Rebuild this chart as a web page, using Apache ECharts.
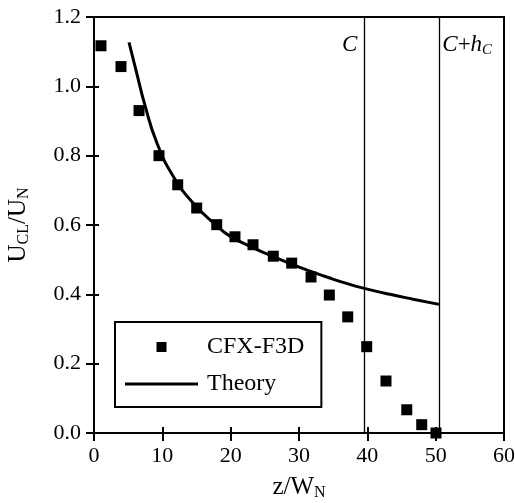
<!DOCTYPE html>
<html>
<head>
<meta charset="utf-8">
<script src="https://cdn.jsdelivr.net/npm/echarts@6/dist/echarts.min.js"></script>
<style>html,body{margin:0;padding:0;background:#fff}#c{width:515px;height:503px}</style>
</head>
<body>
<div id="c"></div>
<script>
// CFX-F3D simulation points [z/W_N, U_CL/U_N]
const cfxZ = [1.02, 3.95, 6.59, 9.51, 12.25, 15.03, 17.96, 20.63, 23.27, 26.24, 28.93, 31.76, 34.44, 37.13, 39.91, 42.73, 45.77, 47.96, 50.05];
const cfxU = [1.117, 1.057, 0.93, 0.80, 0.716, 0.649, 0.601, 0.566, 0.543, 0.510, 0.490, 0.450, 0.398, 0.335, 0.249, 0.150, 0.067, 0.024, 0.0];
// Theory curve
const theoryZ = [5.12, 6.25, 7.46, 9.18, 11.61, 14.53, 17.96, 19.9, 23.3, 26.2, 28.9, 31.6, 34.5, 37.2, 39.4, 43.3, 46.7, 50.5];
const theoryU = [1.127, 1.038, 0.945, 0.838, 0.740, 0.663, 0.598, 0.568, 0.534, 0.509, 0.487, 0.467, 0.447, 0.430, 0.418, 0.400, 0.386, 0.371];
// vertical reference lines
const refZ = [39.56, 50.53];
const xTicks = {min: 0, max: 60, interval: 10};
const yTicks = {min: 0, max: 1.2, interval: 0.2};

const FONT = '"Liberation Serif", "Times New Roman", serif';
const chart = echarts.init(document.getElementById('c'), null, {renderer: 'canvas'});

const axisBase = {
  axisLine: {show: true, lineStyle: {color: '#000', width: 2}},
  splitLine: {show: false}
};

const titleRich = {
  m: {fontFamily: FONT, fontSize: 25, color: '#000', lineHeight: 28, verticalAlign: 'middle'},
  s: {fontFamily: FONT, fontSize: 16, color: '#000', lineHeight: 12, verticalAlign: 'bottom'}
};

const option = {
  backgroundColor: '#fff',
  animation: false,
  grid: {left: 94, right: 11, top: 17, bottom: 70, show: true, borderColor: '#000', borderWidth: 2,
         backgroundColor: 'transparent', containLabel: false, outerBoundsMode: 'none'},
  xAxis: [
    Object.assign({}, axisBase, {
      type: 'value', min: xTicks.min, max: xTicks.max, interval: xTicks.interval,
      axisTick: {show: true, inside: false, length: 8, lineStyle: {color: '#000', width: 2}},
      axisLabel: {color: '#000', fontFamily: FONT, fontSize: 22, margin: 12},
      name: '{m|z/W}{s|N}', nameLocation: 'middle', nameGap: 40,
      nameTextStyle: {rich: titleRich}
    }),
    Object.assign({}, axisBase, {
      type: 'value', min: xTicks.min, max: xTicks.max, interval: xTicks.interval, position: 'bottom',
      axisLine: {show: false},
      axisTick: {show: true, inside: true, length: 6, lineStyle: {color: '#000', width: 2}},
      axisLabel: {show: false}
    })
  ],
  yAxis: [
    Object.assign({}, axisBase, {
      type: 'value', min: yTicks.min, max: yTicks.max, interval: yTicks.interval,
      axisTick: {show: true, inside: false, length: 8, lineStyle: {color: '#000', width: 2}},
      axisLabel: {color: '#000', fontFamily: FONT, fontSize: 22, margin: 13, formatter: v => v.toFixed(1)},
      name: '{m|U}{s|CL}{m|/U}{s|N}', nameLocation: 'middle', nameGap: 62, nameRotate: 90,
      nameTextStyle: {rich: titleRich}
    }),
    Object.assign({}, axisBase, {
      type: 'value', min: yTicks.min, max: yTicks.max, interval: yTicks.interval, position: 'left',
      axisLine: {show: false},
      axisTick: {show: true, inside: true, length: 5, lineStyle: {color: '#000', width: 2}},
      axisLabel: {show: false}
    })
  ],
  legend: {
    orient: 'vertical', left: 115, top: 322,
    backgroundColor: '#fff',
    borderColor: '#000', borderWidth: 2, borderRadius: 0,
    padding: [13, 17, 11, 10],
    itemWidth: 73, itemHeight: 10, itemGap: 13,
    textStyle: {fontFamily: FONT, fontSize: 24, color: '#000', padding: [0, 0, 0, 4]},
    data: [
      {name: 'CFX-F3D', icon: 'path://M0,0H10V10H0Z', itemStyle: {opacity: 1, color: '#000'}},
      {name: 'Theory', icon: 'path://M0,0H73V3H0Z', itemStyle: {color: '#000'}}
    ]
  },
  series: [
    {
      name: 'Theory', type: 'line', smooth: 0.5, symbol: 'none', showSymbol: false,
      lineStyle: {color: '#000', width: 3}, itemStyle: {color: '#000'},
      data: theoryZ.map((z, i) => [z, theoryU[i]]), z: 3
    },
    {
      name: 'CFX-F3D', type: 'scatter', symbol: 'rect', symbolSize: 11,
      itemStyle: {color: '#000', opacity: 1},
      data: cfxZ.map((z, i) => [z, cfxU[i]]), z: 4,
      markLine: {
        silent: true, symbol: 'none', animation: false,
        lineStyle: {color: '#000', width: 1.3, type: 'solid', opacity: 1},
        label: {show: false},
        data: refZ.map(z => ({xAxis: z}))
      }
    }
  ]
};
chart.setOption(option);

// reference line labels
const p1 = chart.convertToPixel({xAxisIndex: 0, yAxisIndex: 0}, [refZ[0], yTicks.max]);
const p2 = chart.convertToPixel({xAxisIndex: 0, yAxisIndex: 0}, [refZ[1], yTicks.max]);
chart.setOption({
  graphic: [
    {type: 'text', x: p1[0] - 7, y: p1[1] + 28, style: {text: 'C', font: 'italic 23px ' + FONT, fill: '#000', align: 'right', verticalAlign: 'middle'}},
    {type: 'text', x: p2[0] + 3, y: p2[1] + 28, style: {
      text: '{i|C}{n|+}{i|h}{s|C}', align: 'left', verticalAlign: 'middle',
      rich: {
        i: {font: 'italic 23px ' + FONT, fill: '#000', lineHeight: 26, verticalAlign: 'middle'},
        n: {font: '23px ' + FONT, fill: '#000', lineHeight: 26, verticalAlign: 'middle'},
        s: {font: 'italic 15px ' + FONT, fill: '#000', lineHeight: 12, verticalAlign: 'bottom'}
      }
    }}
  ]
});
</script>
</body>
</html>
